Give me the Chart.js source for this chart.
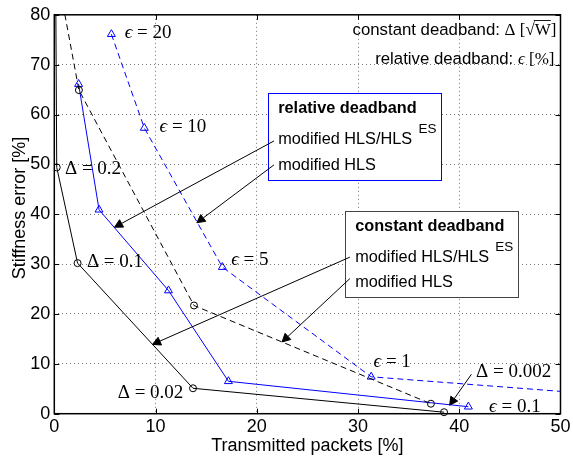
<!DOCTYPE html>
<html><head><meta charset="utf-8">
<script src="https://cdn.jsdelivr.net/npm/chart.js@4.4.0/dist/chart.umd.min.js"></script>
<style>html,body{margin:0;padding:0;background:#fff;}</style>
</head><body>
<canvas id="c" width="573" height="457"></canvas>
<script>
// ---- data ----
const xTickValues = [0, 10, 20, 30, 40, 50];
const yTickValues = [0, 10, 20, 30, 40, 50, 60, 70, 80];

// constant deadband, modified HLS/HLS^ES (black solid, circles)
const constSolidX = [0.1, 0.24, 2.3, 13.7, 38.5];
const constSolidY = [100, 49.4, 30.2, 5.1, 0.3];
// constant deadband, modified HLS (black dashed, circles)
const constDashX = [0.5, 2.43, 13.8, 37.2];
const constDashY = [86, 64.9, 21.7, 2.0];
// relative deadband, modified HLS/HLS^ES (blue solid, triangles)
const relSolidX = [2.4, 4.42, 11.28, 17.2, 40.9];
const relSolidY = [66.1, 40.9, 24.7, 6.5, 1.4];
// relative deadband, modified HLS (blue dashed, triangles)
const relDashX = [5.64, 8.89, 16.6, 31.3, 55];
const relDashY = [76.1, 57.3, 29.4, 7.4, 3.7];

// point labels
const labelTexts = ['ϵ = 20', 'ϵ = 10', 'Δ = 0.2', 'Δ = 0.1', 'ϵ = 5', 'Δ = 0.02', 'ϵ = 1', 'Δ = 0.002', 'ϵ = 0.1'];
const labelX = [6.95, 10.39, 1.05, 3.22, 17.47, 6.26, 31.53, 41.66, 42.94];
const labelY = [75.3, 56.5, 48.1, 29.5, 29.9, 3.1, 9.3, 7.3, 0.3];

// annotation arrows (from legend text to curve)
const arrowFromX = [21.7, 21.7, 29.2, 29.2, 41.2];
const arrowFromY = [54.7, 49.9, 31.4, 27.1, 7.9];
const arrowToX = [5.95, 14.08, 9.7, 22.5, 39.05];
const arrowToY = [37.4, 38.3, 13.9, 14.4, 1.7];

// legend boxes
const boxTitles = ['relative deadband', 'constant deadband'];
const boxX1 = [21.1, 28.7];
const boxY1 = [64.3, 40.7];
const boxX2 = [38.2, 45.8];
const boxY2 = [46.9, 23.4];
const boxColors = ['#0000ff', '#444444'];

const SANS = "'Liberation Sans', Arial, sans-serif";
const SERIF = "'Liberation Serif', 'DejaVu Serif', serif";

function pts(xs, ys) { return xs.map((x, i) => ({x: x, y: ys[i]})); }

function drawSegments(ctx, segs, x, y, align) {
  let total = 0;
  segs.forEach(s => { ctx.font = s.font; s.w = ctx.measureText(s.t).width; total += s.w; });
  let cx = align === 'right' ? x - total : x;
  ctx.textAlign = 'left';
  ctx.textBaseline = 'alphabetic';
  segs.forEach(s => {
    ctx.font = s.font;
    ctx.fillText(s.t, cx, y);
    if (s.over) {
      ctx.beginPath();
      ctx.lineWidth = 0.9;
      ctx.moveTo(cx - 1, y - s.over);
      ctx.lineTo(cx + s.w, y - s.over);
      ctx.stroke();
    }
    cx += s.w;
  });
}

const annot = {
  id: 'annot',
  afterDatasetsDraw(chart) {
    const ctx = chart.ctx;
    const xs = chart.scales.x, ys = chart.scales.y;
    const a = chart.chartArea;
    ctx.save();
    // frame
    ctx.strokeStyle = '#000';
    ctx.lineWidth = 1.5;
    ctx.strokeRect(a.left, a.top, a.right - a.left, a.bottom - a.top);
    // inner ticks
    ctx.lineWidth = 1;
    ctx.beginPath();
    xTickValues.forEach(v => {
      const p = Math.round(xs.getPixelForValue(v)) + 0.5;
      ctx.moveTo(p, a.bottom); ctx.lineTo(p, a.bottom - 5);
      ctx.moveTo(p, a.top); ctx.lineTo(p, a.top + 5);
    });
    yTickValues.forEach(v => {
      const p = Math.round(ys.getPixelForValue(v)) + 0.5;
      ctx.moveTo(a.left, p); ctx.lineTo(a.left + 5, p);
      ctx.moveTo(a.right, p); ctx.lineTo(a.right - 5, p);
    });
    ctx.stroke();

    // y axis title
    ctx.save();
    ctx.translate(20.5, 208);
    ctx.rotate(-Math.PI / 2);
    ctx.font = '18px ' + SANS;
    ctx.fillStyle = '#000';
    ctx.textAlign = 'center';
    ctx.textBaseline = 'middle';
    ctx.fillText('Stiffness error [%]', 0, 0);
    ctx.restore();

    // legend boxes
    boxTitles.forEach((t, i) => {
      const x1 = xs.getPixelForValue(boxX1[i]), y1 = ys.getPixelForValue(boxY1[i]);
      const x2 = xs.getPixelForValue(boxX2[i]), y2 = ys.getPixelForValue(boxY2[i]);
      ctx.fillStyle = '#fff';
      ctx.fillRect(x1, y1, x2 - x1, y2 - y1);
      ctx.strokeStyle = boxColors[i];
      ctx.lineWidth = 1;
      ctx.strokeRect(Math.round(x1) + 0.5, Math.round(y1) + 0.5, Math.round(x2 - x1), Math.round(y2 - y1));
      ctx.fillStyle = '#000';
      ctx.textAlign = 'left';
      ctx.textBaseline = 'alphabetic';
      ctx.font = 'bold 16.3px ' + SANS;
      ctx.fillText(t, x1 + 10.3, y1 + 20);
      ctx.font = '16.3px ' + SANS;
      ctx.fillText('modified HLS/HLS', x1 + 10.3, y1 + 51);
      ctx.font = '13.5px ' + SANS;
      ctx.fillText('ES', x1 + 150.5, y1 + 40);
      ctx.font = '16.3px ' + SANS;
      ctx.fillText('modified HLS', x1 + 10.3, y1 + 76.5);
    });

    // arrows
    ctx.strokeStyle = '#000';
    ctx.fillStyle = '#000';
    ctx.lineWidth = 1;
    arrowFromX.forEach((fx, i) => {
      const x0 = xs.getPixelForValue(fx), y0 = ys.getPixelForValue(arrowFromY[i]);
      const x1 = xs.getPixelForValue(arrowToX[i]), y1 = ys.getPixelForValue(arrowToY[i]);
      const ang = Math.atan2(y1 - y0, x1 - x0);
      const L = 8, W = 4.2;
      const bx = x1 - L * Math.cos(ang), by = y1 - L * Math.sin(ang);
      ctx.beginPath();
      ctx.moveTo(x0, y0); ctx.lineTo(bx, by);
      ctx.stroke();
      ctx.beginPath();
      ctx.moveTo(x1, y1);
      ctx.lineTo(bx + W * Math.sin(ang), by - W * Math.cos(ang));
      ctx.lineTo(bx - W * Math.sin(ang), by + W * Math.cos(ang));
      ctx.closePath();
      ctx.fill();
      ctx.stroke();
    });

    // point labels
    ctx.fillStyle = '#000';
    labelTexts.forEach((t, i) => {
      const px = xs.getPixelForValue(labelX[i]), py = ys.getPixelForValue(labelY[i]);
      const first = t.charAt(0), rest = t.slice(1);
      drawSegments(ctx, [
        {t: first, font: (first === 'ϵ' ? 'italic ' : '') + '19px ' + SERIF},
        {t: rest, font: '19px ' + SERIF}
      ], px, py, 'left');
    });

    // header texts
    ctx.strokeStyle = '#000';
    drawSegments(ctx, [
      {t: 'constant deadband: ', font: '16.8px ' + SANS},
      {t: 'Δ [', font: '17px ' + SERIF},
      {t: '√', font: '17px ' + SERIF},
      {t: 'W', font: '17px ' + SERIF, over: 14},
      {t: ']', font: '17px ' + SERIF}
    ], a.right - 4, 34.5, 'right');
    drawSegments(ctx, [
      {t: 'relative deadband: ', font: '16.8px ' + SANS},
      {t: 'ϵ', font: 'italic 17px ' + SERIF},
      {t: ' [%]', font: '17px ' + SERIF}
    ], a.right - 6, 63.5, 'right');
    ctx.restore();
  }
};

const common = {borderWidth: 1, pointBorderWidth: 1, pointBackgroundColor: 'rgba(0,0,0,0)',
  fill: false, tension: 0, clip: {left: 0, top: 0, right: 0, bottom: 6}};

new Chart(document.getElementById('c'), {
  type: 'line',
  data: {
    datasets: [
      Object.assign({label: 'constant deadband, modified HLS/HLS ES', data: pts(constSolidX, constSolidY),
        borderColor: '#000', pointBorderColor: '#000', pointStyle: 'circle', pointRadius: 3.5}, common),
      Object.assign({label: 'constant deadband, modified HLS', data: pts(constDashX, constDashY),
        borderColor: '#000', borderDash: [6, 4], pointBorderColor: '#000', pointStyle: 'circle', pointRadius: 3.5}, common),
      Object.assign({label: 'relative deadband, modified HLS/HLS ES', data: pts(relSolidX, relSolidY),
        borderColor: '#0000ff', pointBorderColor: '#0000ff', pointStyle: 'triangle', pointRadius: 4.6}, common),
      Object.assign({label: 'relative deadband, modified HLS', data: pts(relDashX, relDashY),
        borderColor: '#0000ff', borderDash: [6, 4], pointBorderColor: '#0000ff', pointStyle: 'triangle', pointRadius: 4.6}, common)
    ]
  },
  options: {
    responsive: false,
    animation: false,
    devicePixelRatio: 1,
    layout: {padding: {left: 0, top: 13.7, right: 10.3, bottom: 0}},
    plugins: {legend: {display: false}, tooltip: {enabled: false}},
    elements: {point: {hoverRadius: 0}},
    scales: {
      x: {
        type: 'linear', min: 0, max: 50,
        afterBuildTicks: s => { s.ticks = xTickValues.map(v => ({value: v})); },
        afterFit: s => { s.height = 43.3; },
        grid: {color: '#777', lineWidth: 1, drawTicks: false},
        border: {display: false, dash: [1, 3]},
        ticks: {font: {family: SANS, size: 18}, color: '#000', padding: 2.5, maxRotation: 0},
        title: {display: true, text: 'Transmitted packets [%]', font: {family: SANS, size: 18}, color: '#000', padding: {top: 0, bottom: 0}}
      },
      y: {
        type: 'linear', min: 0, max: 80,
        afterBuildTicks: s => { s.ticks = yTickValues.map(v => ({value: v})); },
        afterFit: s => { s.width = 54.3; },
        grid: {color: '#777', lineWidth: 1, drawTicks: false},
        border: {display: false, dash: [1, 3]},
        ticks: {font: {family: SANS, size: 18}, color: '#000', padding: 4},
        title: {display: false}
      }
    }
  },
  plugins: [annot]
});
</script>
</body></html>
